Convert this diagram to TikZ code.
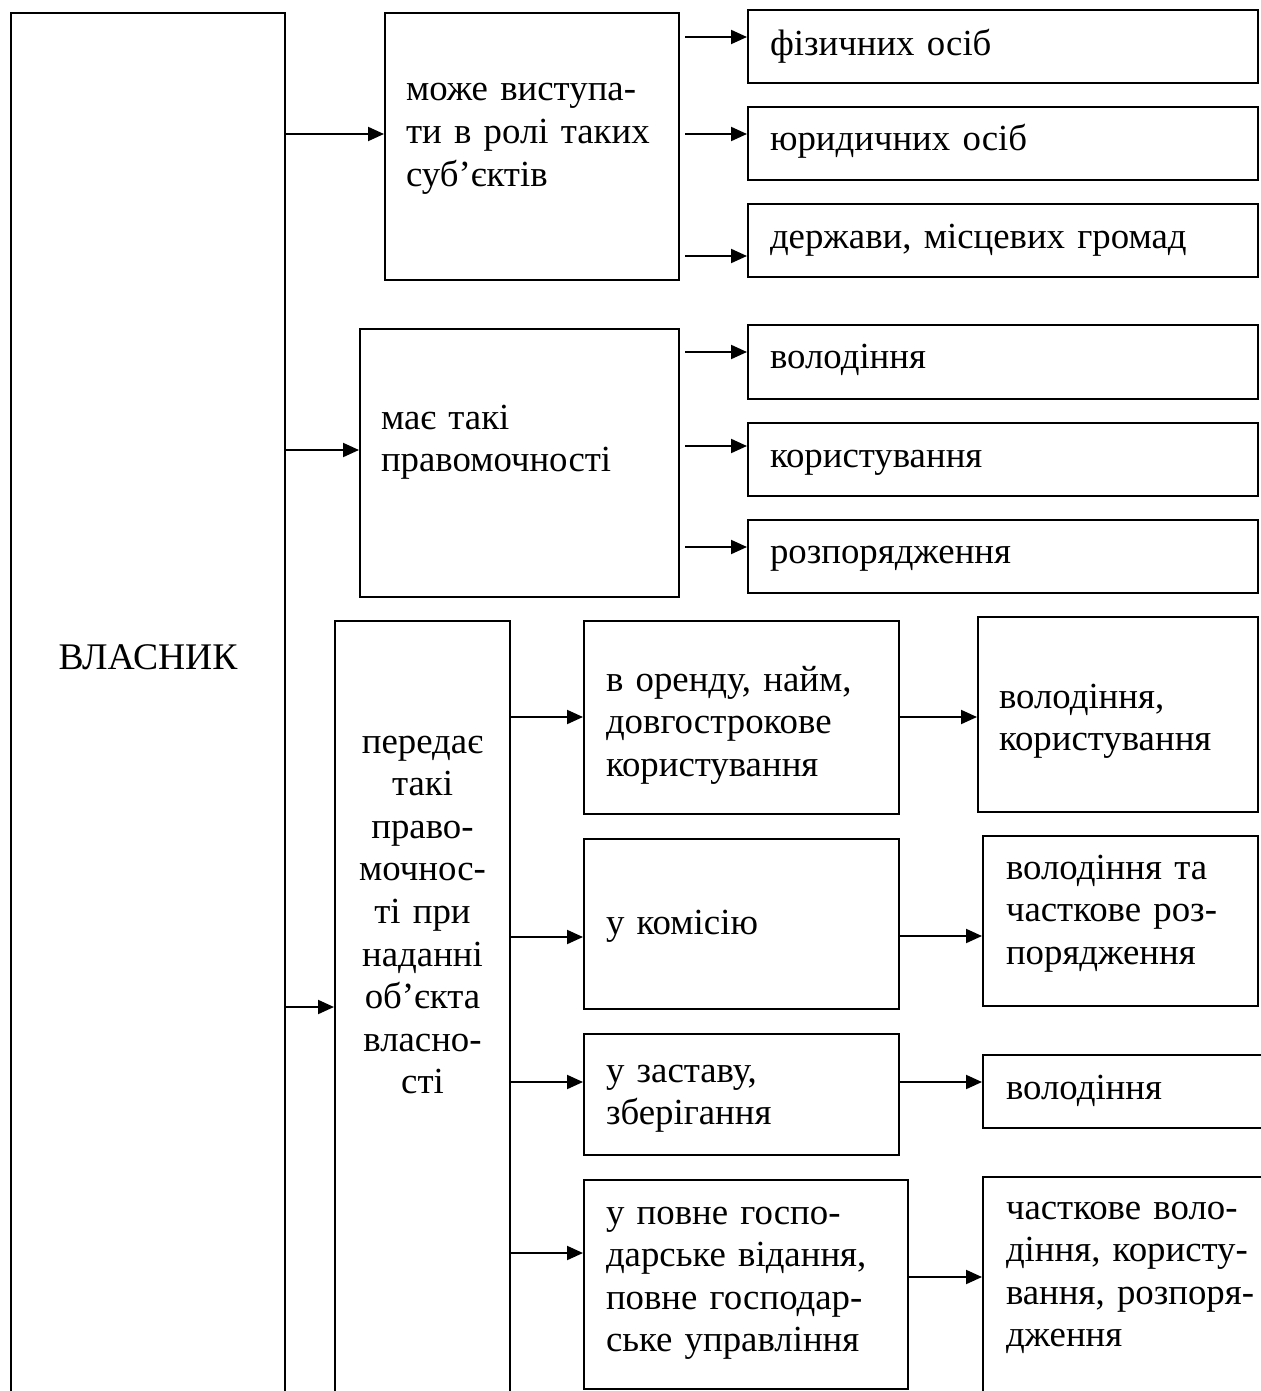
\documentclass[tikz,border=0pt]{standalone}
\usepackage{fontspec}
\setmainfont{Liberation Serif}
\usetikzlibrary{arrows.meta}
\tikzset{
  blk/.style n args={4}{draw, line width=1pt, anchor=north west, align=left,
    inner ysep=0pt, inner xsep=#4*0.5pt, text width=(#1-2*#4)*0.5pt,
    text height=#2*0.5pt, text depth=(#3-#2)*0.5pt,
    font=\fontsize{18.4pt}{21.3pt}\selectfont},
  arr/.style={-{Triangle[length=8pt,width=7pt]}, line width=1pt},
}
\begin{document}
\begin{tikzpicture}[x=0.5pt,y=-0.5pt]
\path[use as bounding box, clip] (0,0) rectangle (1261,1391);

\node[blk={274}{656}{1420}{10}, align=center, font=\fontsize{18.8pt}{21.3pt}\selectfont] (vlasnyk) at (10,12) {ВЛАСНИК};

\node[blk={294}{88}{267}{21}] (mozhe) at (384,12) {може виступа-\\ти в ролі таких\\суб’єктів};
\node[blk={510}{46}{73}{22}] (fiz) at (747,9) {фізичних осіб};
\node[blk={510}{44}{73}{22}] (yur) at (747,106) {юридичних осіб};
\node[blk={510}{45}{73}{22}] (derzh) at (747,203) {держави, місцевих громад};

\node[blk={319}{100}{268}{21}] (maie) at (359,328) {має такі\\правомочності};
\node[blk={510}{43}{74}{22}] (vol) at (747,324) {володіння};
\node[blk={510}{44}{73}{22}] (kor) at (747,422) {користування};
\node[blk={510}{43}{73}{22}] (rozp) at (747,519) {розпорядження};

\node[blk={175}{132}{800}{5}, align=center] (peredaie) at (334,620) {передає\\такі\\право-\\мочнос-\\ті при\\наданні\\об’єкта\\власно-\\сті};
\node[blk={315}{70}{193}{22}] (orenda) at (583,620) {в оренду, найм,\\довгострокове\\користування};
\node[blk={315}{95}{170}{22}] (komisia) at (583,838) {у комісію};
\node[blk={315}{48}{121}{22}] (zastava) at (583,1033) {у заставу,\\зберігання};
\node[blk={324}{44}{209}{22}] (povne) at (583,1179) {у повне госпо-\\дарське відання,\\повне господар-\\ське управління};

\node[blk={280}{91}{195}{21}] (volkor) at (977,616) {володіння,\\користування};
\node[blk={275}{43}{170}{23}] (volchast) at (982,835) {володіння та\\часткове роз-\\порядження};
\node[blk={300}{44}{73}{23}] (vol2) at (982,1054) {володіння};
\node[blk={300}{42}{300}{23}] (chastk) at (982,1176) {часткове воло-\\діння, користу-\\вання, розпоря-\\дження};

\path[draw,arr] (vlasnyk.east |- 0,134) -- (mozhe.west |- 0,134);
\path[draw,arr] (vlasnyk.east |- 0,450) -- (maie.west |- 0,450);
\path[draw,arr] (vlasnyk.east |- 0,1007) -- (peredaie.west |- 0,1007);

\path[draw,arr] ([xshift=2.5pt]mozhe.east |- 0,37) -- (fiz.west |- 0,37);
\path[draw,arr] ([xshift=2.5pt]mozhe.east |- 0,134) -- (yur.west |- 0,134);
\path[draw,arr] ([xshift=2.5pt]mozhe.east |- 0,256) -- (derzh.west |- 0,256);

\path[draw,arr] ([xshift=2.5pt]maie.east |- 0,352) -- (vol.west |- 0,352);
\path[draw,arr] ([xshift=2.5pt]maie.east |- 0,446) -- (kor.west |- 0,446);
\path[draw,arr] ([xshift=2.5pt]maie.east |- 0,547) -- (rozp.west |- 0,547);

\path[draw,arr] (peredaie.east |- 0,717) -- (orenda.west |- 0,717);
\path[draw,arr] (peredaie.east |- 0,937) -- (komisia.west |- 0,937);
\path[draw,arr] (peredaie.east |- 0,1082) -- (zastava.west |- 0,1082);
\path[draw,arr] (peredaie.east |- 0,1253) -- (povne.west |- 0,1253);

\path[draw,arr] (orenda.east |- 0,717) -- (volkor.west |- 0,717);
\path[draw,arr] (komisia.east |- 0,936) -- (volchast.west |- 0,936);
\path[draw,arr] (zastava.east |- 0,1082) -- (vol2.west |- 0,1082);
\path[draw,arr] (povne.east |- 0,1277) -- (chastk.west |- 0,1277);
\end{tikzpicture}
\end{document}
